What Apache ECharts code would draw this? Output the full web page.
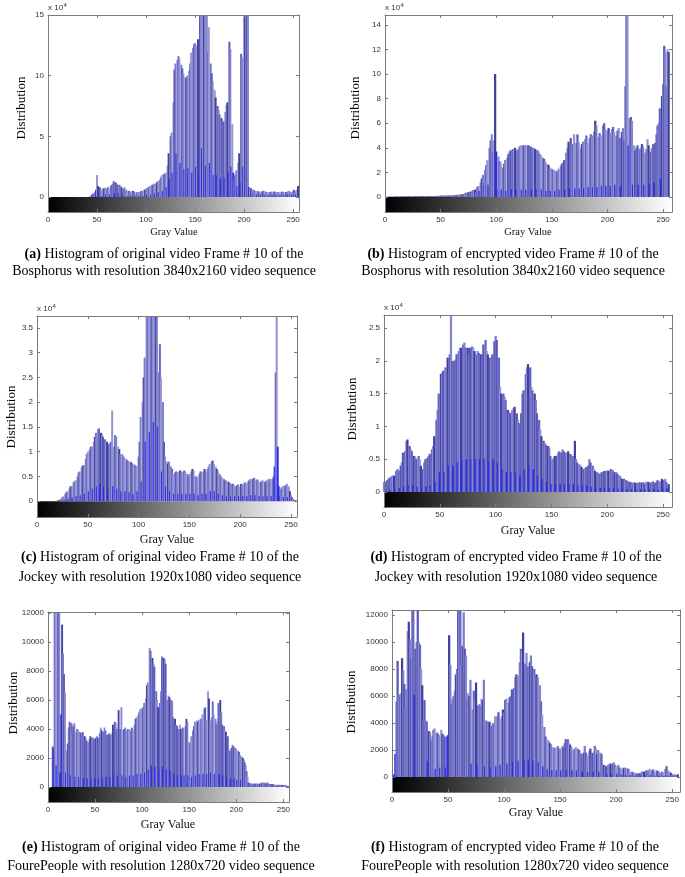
<!DOCTYPE html>
<html><head><meta charset="utf-8">
<script src="https://cdn.jsdelivr.net/npm/echarts@6/dist/echarts.min.js"></script>
<style>html,body{margin:0;padding:0;background:#fff}#c{width:685px;height:877px}</style>
</head><body><div id="c"></div>
<script>
// ---------- DATA (pixel counts per gray level 0..255) ----------
// (a) Bosphorus original, units of 10^4
const bosphorusOriginal = [
0,0,0,0,0,0,0,0,0,0,
0,0,0,0,0,0,0,0,0,0,
0,0,0,0,0,0,0,0,0,0,
0,0,0,0,0,0,0,0,0,0,
0,0,0,0.05,0.1,0.2,0.3,0.25,0.4,0.6,
1.8,0.9,0.3,0.8,0.6,0.1,0.7,0.7,0.75,0.2,
0.7,0.8,0.7,0.2,0.9,1.0,1.1,1.3,0.3,1.2,
1.1,1.0,0.3,1.0,0.9,0.8,0.2,0.7,0.8,0.6,
0.6,0.1,0.5,0.5,0.4,0.1,0.5,0.5,0.4,0.1,
0.35,0.4,0.4,0.1,0.4,0.5,0.5,0.1,0.6,0.6,
0.7,0.2,0.8,0.8,0.9,0.2,1.0,1.0,1.1,0.3,
1.1,1.2,1.3,0.4,1.4,1.6,1.8,0.5,1.9,1.9,
2.0,0.8,2.6,3.6,1.5,5.0,5.3,2.0,7.8,10.5,
11.0,3.6,11.3,11.6,11.4,2.8,10.9,10.6,10.2,2.3,
9.9,9.8,10.0,2.4,10.4,11.0,11.9,2.0,12.3,12.6,
12.7,2.5,12.5,13.0,1.6,15.5,16,4.0,17,16,
15.5,2.6,16,12.0,14.0,2.8,11.0,10.2,9.5,1.8,
8.8,8.2,1.8,7.5,7.2,6.8,1.5,6.5,6.3,6.2,
1.6,7.0,7.6,7.8,2.0,12.8,12.2,2.5,6.0,2.0,
1.5,1.8,2.2,0.9,2.8,3.6,1.2,11.8,11.5,2.5,
16,16,17,16,15.5,0.8,0.75,0.7,0.6,0.3,
0.6,0.5,0.5,0.2,0.5,0.4,0.45,0.2,0.4,0.5,
0.5,0.2,0.45,0.4,0.4,0.15,0.4,0.4,0.45,0.2,
0.4,0.45,0.4,0.15,0.4,0.4,0.35,0.15,0.4,0.45,
0.4,0.15,0.4,0.4,0.45,0.2,0.5,0.4,0.4,0.2,
0.5,0.6,0.5,0.2,0.6,0.9];
// (b) Bosphorus encrypted, units of 10^4
const bosphorusEncrypted = [
0,0.02,0.02,0.03,0.02,0.03,0.03,0.02,0.03,0.04,
0.04,0.05,0.04,0.05,0.05,0.04,0.05,0.05,0.06,0.05,
0.05,0.06,0.05,0.06,0.06,0.05,0.06,0.06,0.07,0.06,
0.06,0.07,0.06,0.07,0.07,0.06,0.07,0.07,0.08,0.07,
0.07,0.08,0.08,0.07,0.08,0.08,0.09,0.08,0.09,0.1,
0.12,0.1,0.1,0.11,0.1,0.12,0.12,0.11,0.13,0.12,
0.14,0.13,0.15,0.14,0.16,0.18,0.16,0.2,0.18,0.22,
0.25,0.22,0.3,0.35,0.3,0.4,0.35,0.45,0.3,0.55,
0.5,0.6,0.4,0.8,0.9,0.5,1.2,1.5,1.8,1.0,
2.2,2.6,3.0,1.0,4.0,4.6,5.1,3.6,4.6,10.0,
3.7,0.6,3.3,2.9,2.8,0.6,2.4,2.7,3.0,0.5,
3.2,3.5,3.7,3.8,0.6,3.9,3.9,4.0,0.6,3.8,
3.9,4.1,4.2,0.6,4.2,4.2,4.2,0.6,4.2,4.2,
4.1,4.1,0.6,4.0,4.0,3.9,0.6,3.8,3.7,3.5,
3.4,0.6,3.2,3.1,2.9,0.5,2.7,2.6,2.4,0.5,
2.3,2.2,2.2,0.5,2.1,2.1,2.3,0.6,2.5,2.7,
2.8,3.0,0.6,3.6,4.0,4.5,0.7,4.8,4.2,4.3,
5.1,0.7,4.4,5.1,4.5,0.7,4.0,4.3,4.5,0.7,
4.7,5.0,4.4,0.8,4.8,5.1,5.0,0.8,5.3,6.2,
5.8,0.8,4.9,5.2,5.0,0.9,5.8,6.0,5.5,0.9,
5.4,5.6,5.2,0.9,5.5,5.7,5.3,1.0,5.0,5.4,
5.6,4.8,0.9,5.3,5.6,4.6,9.0,16,16,4.2,
6.4,6.5,6.2,1.0,4.2,3.8,4.0,4.2,1.0,3.9,
4.0,4.3,4.1,1.0,3.6,3.9,4.7,4.2,1.0,3.7,
4.0,4.3,1.2,4.4,5.1,5.8,6.0,7.2,1.5,8.2,
9.2,12.3,11.8,9.0,12.0,11.8];
// (c) Jockey original, units of 10^4
const jockeyOriginal = [
0,0,0,0,0,0,0,0,0,0,
0,0,0,0,0,0,0,0,0,0,
0.01,0.02,0.02,0.03,0.05,0.08,0.1,0.03,0.15,0.18,
0.2,0.05,0.25,0.3,0.3,0.08,0.38,0.4,0.42,0.1,
0.5,0.58,0.6,0.12,0.68,0.72,0.73,0.15,0.85,0.95,
1.0,0.2,1.05,1.1,1.1,0.25,1.2,1.3,1.38,0.3,
1.45,1.47,0.35,1.38,1.35,1.3,0.3,1.25,1.2,1.2,
0.25,1.15,1.18,1.2,1.83,0.3,1.1,1.33,1.3,0.25,
1.1,1.05,0.95,0.2,0.95,0.9,0.88,0.2,0.85,0.82,
0.8,0.18,0.8,0.78,0.75,0.15,0.74,0.72,0.7,0.2,
0.9,1.2,1.7,0.4,2.0,2.5,2.9,1.2,3.8,4.0,
3.9,1.4,4.0,4.2,3.9,1.6,4.0,3.9,3.8,1.5,
2.6,3.17,2.5,0.6,2.0,1.2,0.9,0.3,0.8,0.75,
0.8,0.2,0.7,0.65,0.55,0.15,0.58,0.6,0.58,0.15,
0.6,0.62,0.58,0.15,0.6,0.62,0.6,0.15,0.55,0.5,
0.55,0.15,0.6,0.65,0.62,0.15,0.5,0.5,0.48,0.12,
0.55,0.6,0.58,0.15,0.6,0.65,0.6,0.15,0.65,0.7,
0.75,0.2,0.8,0.82,0.75,0.2,0.7,0.65,0.6,0.15,
0.55,0.5,0.48,0.12,0.45,0.42,0.42,0.1,0.4,0.38,
0.36,0.1,0.35,0.35,0.32,0.1,0.3,0.32,0.34,0.1,
0.3,0.35,0.34,0.1,0.36,0.38,0.35,0.1,0.4,0.42,
0.45,0.12,0.44,0.46,0.47,0.12,0.42,0.44,0.4,0.1,
0.38,0.4,0.42,0.1,0.4,0.38,0.42,0.1,0.45,0.42,
0.45,0.1,0.45,0.5,0.7,2.6,3.8,1.1,0.3,0.1,
0.25,0.28,0.3,0.08,0.32,0.3,0.35,0.08,0.3,0.2,
0.12,0.08,0.05,0.03,0.02,0.01];
// (d) Jockey encrypted, units of 10^4
const jockeyEncrypted = [
0.15,0.16,0.02,0.18,0.2,0.22,0.03,0.24,0.25,0.25,
0.04,0.32,0.35,0.33,0.06,0.4,0.45,0.6,0.08,0.62,
0.78,0.8,0.1,0.7,0.65,0.62,0.1,0.55,0.53,0.5,
0.08,0.55,0.5,0.4,0.06,0.35,0.45,0.5,0.08,0.52,
0.55,0.58,0.1,0.65,0.7,0.85,0.15,1.1,1.25,1.5,
0.3,1.8,1.82,1.85,0.3,1.9,1.88,2.05,0.4,2.1,
2.7,2.0,0.4,2.0,2.02,2.1,0.45,2.15,2.2,2.2,
0.5,2.25,2.28,2.2,0.5,2.2,2.1,2.2,0.5,2.22,
2.2,2.15,0.5,2.1,2.15,2.12,0.5,2.1,2.08,2.25,
0.5,2.32,2.15,2.1,0.45,2.05,2.05,2.1,0.5,2.3,
2.38,2.32,0.45,2.05,1.6,1.5,0.35,1.5,1.45,1.4,
0.3,1.25,1.22,1.2,0.3,1.25,1.28,1.3,0.3,1.2,
1.1,1.05,0.25,1.2,1.5,1.55,0.35,1.8,1.9,1.95,
0.4,1.9,1.6,1.55,0.35,1.5,1.4,1.2,0.25,1.1,
0.95,0.85,0.2,0.78,0.75,0.72,0.15,0.7,0.68,0.55,
0.12,0.5,0.52,0.55,0.12,0.55,0.6,0.62,0.12,0.6,
0.65,0.62,0.12,0.6,0.6,0.62,0.12,0.58,0.5,0.55,
0.12,0.78,0.5,0.45,0.1,0.42,0.4,0.38,0.1,0.35,
0.36,0.38,0.1,0.4,0.5,0.45,0.08,0.4,0.35,0.32,
0.07,0.3,0.28,0.28,0.06,0.3,0.3,0.32,0.06,0.32,
0.33,0.32,0.06,0.35,0.34,0.33,0.06,0.3,0.3,0.28,
0.05,0.25,0.23,0.2,0.05,0.2,0.18,0.18,0.04,0.16,
0.15,0.15,0.04,0.14,0.15,0.14,0.04,0.14,0.13,0.15,
0.04,0.14,0.15,0.13,0.04,0.15,0.16,0.15,0.04,0.14,
0.15,0.16,0.04,0.14,0.15,0.18,0.04,0.16,0.17,0.2,
0.05,0.18,0.2,0.15,0.05,0.12];
// (e) FourePeople original, raw counts
const fourPeopleOriginal = [
0,0,0,0,0,2800,2700,14000,14000,1500,
14000,14000,14000,1000,5000,11200,9200,7800,6500,1000,
2500,3000,4100,4500,800,4400,3700,4200,4400,700,
3800,4000,3900,700,3800,3700,3600,3800,600,3500,
3400,3200,600,3100,3300,3500,600,3400,3400,3300,
600,3400,3500,3400,600,3700,4100,3900,600,3800,
4100,3900,700,3600,3500,3700,700,3600,3700,4300,
700,4500,4400,4000,800,5300,3900,4000,5500,800,
3900,4000,4100,700,3900,4000,4000,800,3900,4100,
4000,800,4300,4700,4800,900,5000,5200,5400,900,
5400,5500,5800,1000,6100,7000,7200,1200,9600,9400,
1500,8900,8500,8300,1400,6600,6000,5500,1200,5800,
6600,9000,1400,8900,8800,8500,1200,6000,6300,6200,
1100,6000,5900,4800,900,4700,4300,4200,800,4000,
4300,4000,800,4100,4000,800,4200,4700,4500,800,
3100,3000,3500,700,3900,4200,4500,800,4600,4500,
4600,900,4700,4700,5000,900,5400,5500,4600,900,
6600,6100,4600,1000,4800,5900,5000,900,4700,4300,
4500,5800,900,6000,5200,4300,800,4200,3900,3800,
700,3500,2600,2500,600,2700,2900,2800,600,2700,
2600,500,2500,2400,2200,500,2100,2000,1900,1700,
1500,1100,700,300,300,200,250,200,250,200,
250,200,250,200,250,200,250,300,200,300,
300,250,200,300,250,200,150,200,150,200,
150,150,150,100,150,150,100,150,100,150,
100,100,150,100,50,50];
// (f) FourePeople encrypted, raw counts
const fourPeopleEncrypted = [
0,100,200,1700,5600,8600,6000,6100,6200,8800,
7900,6900,5200,6500,10800,11500,10200,8800,14000,14000,
6100,9500,10000,14000,10000,9800,8000,6800,4200,5700,
4200,4100,1200,3400,3300,2700,3000,3500,3600,600,
3300,3200,3100,700,3500,3200,3100,3000,700,3000,
3100,10500,8300,5400,5800,6000,6400,7600,8000,14000,
14000,14000,8300,9700,12200,9500,9000,5800,6200,6000,
7200,1000,5000,6400,5600,7000,900,5300,5400,5300,
5800,5700,7200,800,4200,4100,4000,4100,700,3800,
4000,3900,4500,800,4500,4800,4300,900,4500,5000,
4800,5700,5800,1000,5500,5900,6000,6500,1100,6600,
7400,7600,7500,1200,8500,9500,9300,10700,1300,8400,
9200,8200,1300,8500,9000,8200,1200,8000,7500,7600,
7400,1100,6800,5600,4600,800,3700,3000,2800,600,
2700,2500,2400,500,2200,2100,2200,500,2300,2100,
2100,500,2300,2200,2500,2800,500,2800,2500,2400,
2200,500,2000,2100,2200,500,2100,2000,1800,1700,
400,1800,2300,1800,1600,400,1900,2100,1700,1800,
400,2300,2100,1700,2000,400,1800,1700,800,900,
850,800,200,900,950,1000,250,1000,1100,900,
800,250,900,700,600,200,700,650,700,150,
650,600,400,150,400,350,300,100,300,250,
200,300,100,400,350,400,100,500,450,500,
600,150,500,550,400,100,500,450,400,100,
300,400,350,100,600,800,500,100,400,300,
200,100,200,150,150,200];

// tick labels
const grayTicks = [0, 50, 100, 150, 200, 250];
const ticksA = [0, 5, 10, 15];
const ticksB = [0, 2, 4, 6, 8, 10, 12, 14];
const ticksC = [0, 0.5, 1, 1.5, 2, 2.5, 3, 3.5];
const ticksD = [0, 0.5, 1, 1.5, 2, 2.5];
const ticksEF = [0, 2000, 4000, 6000, 8000, 10000, 12000];

// texts
const xName = 'Gray Value';
const yName = 'Distribution';
const expBase = 'x 10', expPow = '4';
const captionTags = ['(a)', '(b)', '(c)', '(d)', '(e)', '(f)'];
const captionLine1 = [
  'Histogram of original video Frame # 10 of the',
  'Histogram of encrypted video Frame # 10 of the',
  'Histogram of original video Frame # 10 of the',
  'Histogram of encrypted video Frame # 10 of the',
  'Histogram of original video Frame # 10 of the',
  'Histogram of encrypted video Frame # 10 of the'];
const captionLine2 = [
  'Bosphorus with resolution 3840x2160 video sequence',
  'Bosphorus with resolution 3840x2160 video sequence',
  'Jockey with resolution 1920x1080 video sequence',
  'Jockey with resolution 1920x1080 video sequence',
  'FourePeople with resolution 1280x720 video sequence',
  'FourePeople with resolution 1280x720 video sequence'];

const allSeries = [bosphorusOriginal, bosphorusEncrypted, jockeyOriginal, jockeyEncrypted, fourPeopleOriginal, fourPeopleEncrypted];
allSeries.forEach((s, i) => { if (s.length !== 256) throw new Error('series ' + i + ' length ' + s.length); });

// ---------- LAYOUT ----------
const panels = [
 {vals: bosphorusOriginal, ticks: ticksA, left:48, top:15, w:251, h:197, xMax:256, yMin:-1.24, yMax:15, exp:true, dist:[22,108], gv:[174,232], gvSize:10.5, cap:[164,254,271]},
 {vals: bosphorusEncrypted, ticks: ticksB, left:385, top:15, w:287, h:197, xMax:258, yMin:-1.22, yMax:14.8, exp:true, dist:[356,108], gv:[528,232], gvSize:10.5, cap:[513,254,271]},
 {vals: jockeyOriginal, ticks: ticksC, left:37, top:316, w:260, h:201, xMax:256, yMin:-0.32, yMax:3.74, exp:true, dist:[12,417], gv:[167,540], gvSize:12, cap:[160,557,577]},
 {vals: jockeyEncrypted, ticks: ticksD, left:384, top:315, w:288, h:192, xMax:258, yMin:-0.23, yMax:2.70, exp:true, dist:[353,409], gv:[528,531], gvSize:12, cap:[516,557,577]},
 {vals: fourPeopleOriginal, ticks: ticksEF, left:48, top:612, w:241, h:190, xMax:256, yMin:-1034, yMax:12070, exp:false, dist:[14,703], gv:[168,825], gvSize:12, cap:[161,847,866]},
 {vals: fourPeopleEncrypted, ticks: ticksEF, left:392, top:610, w:288, h:182, xMax:257, yMin:-1110, yMax:12370, exp:false, dist:[352,702], gv:[536,813], gvSize:12, cap:[515,847,866]}
];

const shades = ['#8686cc', '#6666c4', '#9494d4', '#40409e', '#7c7cc8', '#5858be'];
function colorFor(vals, i) {
  const v = vals[i];
  const nb = Math.max(i > 0 ? vals[i - 1] : 0, i < vals.length - 1 ? vals[i + 1] : 0);
  if (nb > 0 && v < 0.45 * nb) return '#2c2cf2';
  return shades[i % shades.length];
}

const chart = echarts.init(document.getElementById('c'), null, {renderer: 'canvas'});
const grid = [], xAxis = [], yAxis = [], series = [], graphic = [];
const axisCol = '#7a7a7a';
const tickFont = {fontFamily: 'Liberation Sans', fontSize: 8, color: '#333'};
const plainNum = (v) => String(Math.round(v * 100) / 100);

panels.forEach((p, i) => {
  grid.push({left: p.left, top: p.top, width: p.w, height: p.h, containLabel: false});
  const xBase = {gridIndex: i, type: 'value', min: 0, max: p.xMax, z: 10,
    axisLine: {show: true, onZero: false, lineStyle: {color: axisCol, width: 1}},
    axisTick: {show: true, inside: true, length: 3, customValues: grayTicks, lineStyle: {color: axisCol}},
    splitLine: {show: false}};
  xAxis.push(Object.assign({}, xBase, {position: 'bottom',
    axisLabel: Object.assign({show: true, margin: 4, customValues: grayTicks, formatter: plainNum}, tickFont)}));
  xAxis.push(Object.assign({}, xBase, {position: 'top', axisLabel: {show: false}}));
  const yBase = {gridIndex: i, type: 'value', min: p.yMin, max: p.yMax, z: 10,
    axisLine: {show: true, onZero: false, lineStyle: {color: axisCol, width: 1}},
    axisTick: {show: true, inside: true, length: 3, customValues: p.ticks, lineStyle: {color: axisCol}},
    splitLine: {show: false}};
  yAxis.push(Object.assign({}, yBase, {position: 'left',
    axisLabel: Object.assign({show: true, margin: 4, customValues: p.ticks, formatter: plainNum}, tickFont)}));
  yAxis.push(Object.assign({}, yBase, {position: 'right', axisLabel: {show: false}}));

  series.push({
    type: 'bar', xAxisIndex: 2 * i, yAxisIndex: 2 * i,
    data: p.vals.map((v, bin) => [bin, v]),
    barWidth: p.w / p.xMax * 2.0,
    barGap: '-100%',
    clip: true, silent: true, animation: false,
    itemStyle: {color: (prm) => colorFor(p.vals, prm.dataIndex)},
    markArea: {silent: true,
      itemStyle: {color: new echarts.graphic.LinearGradient(0, 0, 1, 0,
        [{offset: 0, color: '#000000'}, {offset: 1, color: '#ffffff'}])},
      data: [[{coord: [0, p.yMin]}, {coord: [p.xMax, 0]}]]}
  });

  // axis titles
  graphic.push({type: 'text', x: p.dist[0], y: p.dist[1], rotation: Math.PI / 2,
    style: {text: yName, fontFamily: 'Liberation Serif', fontSize: 13, fill: '#000', align: 'center', verticalAlign: 'middle'}});
  graphic.push({type: 'text', x: p.gv[0], y: p.gv[1],
    style: {text: xName, fontFamily: 'Liberation Serif', fontSize: p.gvSize, fill: '#111', align: 'center', verticalAlign: 'middle'}});
  if (p.exp) {
    graphic.push({type: 'text', x: p.left, y: p.top - 7,
      style: {text: expBase, fontFamily: 'Liberation Sans', fontSize: 8, fill: '#333', align: 'left', verticalAlign: 'middle'}});
    graphic.push({type: 'text', x: p.left + 15.5, y: p.top - 10,
      style: {text: expPow, fontFamily: 'Liberation Sans', fontSize: 6, fill: '#333', align: 'left', verticalAlign: 'middle'}});
  }
  // caption
  graphic.push({type: 'text', x: p.cap[0], y: p.cap[1],
    style: {text: '{b|' + captionTags[i] + '} ' + captionLine1[i],
      rich: {b: {fontWeight: 'bold', fontFamily: 'Liberation Serif', fontSize: 14, fill: '#000'}},
      fontFamily: 'Liberation Serif', fontSize: 14, fill: '#000', align: 'center', verticalAlign: 'middle'}});
  graphic.push({type: 'text', x: p.cap[0], y: p.cap[2],
    style: {text: captionLine2[i], fontFamily: 'Liberation Serif', fontSize: 14, fill: '#000', align: 'center', verticalAlign: 'middle'}});
});

chart.setOption({animation: false, backgroundColor: '#fff', grid, xAxis, yAxis, series, graphic});
</script>
</body></html>
